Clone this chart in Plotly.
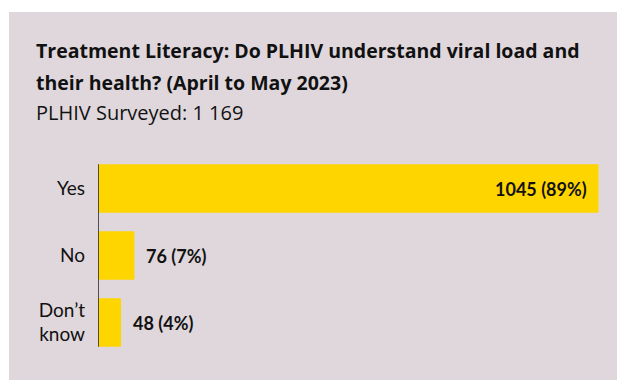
import plotly.graph_objects as go

# Survey responses
categories = ["Yes", "No", "Don’t<br>know"]
counts = [1045, 76, 48]
percents = [89, 7, 4]
total_surveyed = "1 169"

title_line1 = "Treatment Literacy: Do PLHIV understand viral load and"
title_line2 = "their health? (April to May 2023)"
subtitle = f"PLHIV Surveyed: {total_surveyed}"

W, H = 617, 380
PANEL = "#dfd7dc"
YELLOW = "#ffd500"
INK = "#111111"
FONT = "Lato"
HEAD_FONT = "Open Sans"

labels = [f"{c} ({p}%)" for c, p in zip(counts, percents)]

fig = go.Figure(
    go.Bar(
        x=counts,
        y=categories,
        orientation="h",
        marker=dict(color=YELLOW, line=dict(width=0)),
        hoverinfo="skip",
    )
)

BAR_FRAC = 0.724  # fraction of a category slot filled by a bar

# value labels: inside the end of a long bar, just past the end of short ones
for c, cat, lab in zip(counts, categories, labels):
    inside = c > max(counts) * 0.5
    fig.add_annotation(
        x=c, y=cat, xref="x", yref="y",
        text=f"<b>{lab}</b>",
        showarrow=False,
        xanchor="right" if inside else "left",
        xshift=-10 if inside else 10,
        font=dict(family=FONT, size=18, color=INK),
    )

# background panel
fig.add_shape(
    type="rect", xref="paper", yref="paper",
    x0=9 / W, x1=1.0, y0=0.0, y1=1 - 12 / H,
    fillcolor=PANEL, line=dict(width=0), layer="below",
)

# vertical baseline spanning the bars only
fig.add_shape(
    type="line", xref="x", yref="y",
    x0=0, x1=0,
    y0=-BAR_FRAC / 2, y1=len(categories) - 1 + BAR_FRAC / 2,
    line=dict(color="#2b2b2b", width=1.6), layer="above",
)

# headline (two lines) and subtitle, each placed by its vertical centre
for text, yc, bold, size in [
    (title_line1, 51, True, 19.5),
    (title_line2, 82, True, 19.5),
    (subtitle, 113, False, 20),
]:
    fig.add_annotation(
        x=34 / W, y=1 - yc / H, xref="paper", yref="paper",
        xanchor="left", yanchor="middle", align="left",
        text=f"<b>{text}</b>" if bold else text,
        showarrow=False,
        font=dict(family=HEAD_FONT, size=size, color=INK),
    )

fig.update_layout(
    width=W, height=H,
    margin=dict(l=0, r=0, t=0, b=0),
    paper_bgcolor="white",
    plot_bgcolor="rgba(0,0,0,0)",
    bargap=1 - BAR_FRAC,
    showlegend=False,
    xaxis=dict(
        domain=[98 / W, 598.7 / W],
        range=[0, max(counts)],
        visible=False,
        fixedrange=True,
    ),
    yaxis=dict(
        domain=[24 / H, 225 / H],
        autorange="reversed",
        showgrid=False, zeroline=False, showline=False,
        ticks="", ticklabelstandoff=12,
        tickfont=dict(family=FONT, size=19, color=INK),
        fixedrange=True,
    ),
)

fig.write_html("out.html")
